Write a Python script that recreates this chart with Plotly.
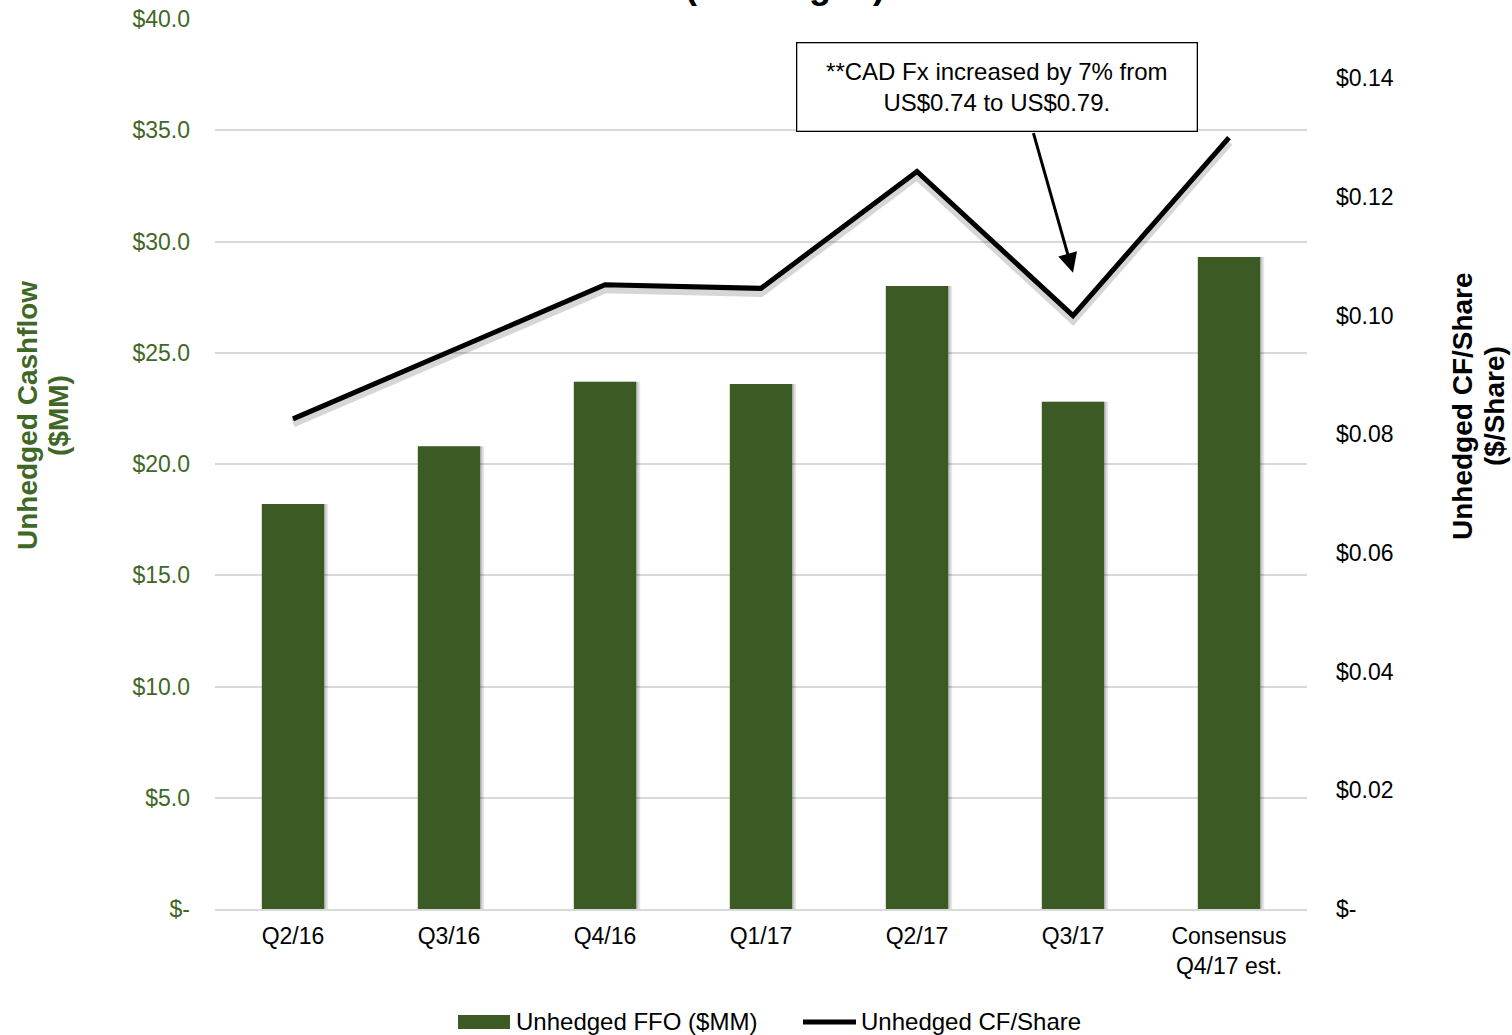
import plotly.graph_objects as go

# Quarterly unhedged cash flow and per-share figures
quarters = ["Q2/16", "Q3/16", "Q4/16", "Q1/17", "Q2/17", "Q3/17", "Consensus<br>Q4/17 est."]
ffo_mm = [18.2, 20.8, 23.7, 23.6, 28.0, 22.8, 29.3]
cf_per_share = [0.0826, 0.0939, 0.1052, 0.1046, 0.1243, 0.1000, 0.1300]

left_ticks = [0, 5, 10, 15, 20, 25, 30, 35, 40]
left_labels = ["$-", "$5.0", "$10.0", "$15.0", "$20.0", "$25.0", "$30.0", "$35.0", "$40.0"]
right_ticks = [0, 0.02, 0.04, 0.06, 0.08, 0.10, 0.12, 0.14]
right_labels = ["$-", "$0.02", "$0.04", "$0.06", "$0.08", "$0.10", "$0.12", "$0.14"]

FFO_NAME = "Unhedged FFO ($MM)"
CFPS_NAME = "Unhedged CF/Share"

FONT = "Liberation Sans, Arial, sans-serif"
GREEN = "#3b5a24"
GREEN_TEXT = "#3f6826"
GRID = "#d9d9d9"

W, H = 1512, 1035
ML, MR, MT, MB = 215, 205, 19, 126
PW, PH = W - ML - MR, H - MT - MB
slot_px = PW / len(quarters)
bar_w = 0.4


def px_x(p):
    return (p - ML) / PW


def px_y(p):
    return (MT + PH - p) / PH


fig = go.Figure()

# soft drop shadow behind the bars
fig.add_trace(go.Bar(
    x=quarters, y=ffo_mm, width=bar_w, offset=-bar_w / 2 + 4 / slot_px,
    marker=dict(color="rgba(0,0,0,0.10)", line=dict(width=0)),
    showlegend=False, hoverinfo="skip", yaxis="y"))
fig.add_trace(go.Bar(
    x=quarters, y=ffo_mm, width=bar_w, offset=-bar_w / 2 + 2 / slot_px,
    marker=dict(color="rgba(0,0,0,0.14)", line=dict(width=0)),
    showlegend=False, hoverinfo="skip", yaxis="y"))

fig.add_trace(go.Bar(
    x=quarters, y=ffo_mm, width=bar_w, offset=-bar_w / 2,
    marker=dict(color=GREEN, line=dict(width=0)),
    name=FFO_NAME, showlegend=False, yaxis="y"))

# shadow of the per-share line, drawn on a slightly shifted hidden axis
shift = 4 / PH * 0.15
fig.add_trace(go.Scatter(
    x=quarters, y=cf_per_share, mode="lines",
    line=dict(color="rgba(0,0,0,0.16)", width=9),
    showlegend=False, hoverinfo="skip", yaxis="y2"))

fig.add_trace(go.Scatter(
    x=quarters, y=cf_per_share, mode="lines",
    line=dict(color="#000000", width=5),
    name=CFPS_NAME, showlegend=False, yaxis="y3"))

# legend keys drawn below the plot with wide swatches
legend_y = px_y(1022)
shapes = [
    dict(type="rect", xref="paper", yref="paper",
         x0=px_x(458), x1=px_x(510), y0=px_y(1029), y1=px_y(1015),
         fillcolor=GREEN, line=dict(width=0)),
    dict(type="line", xref="paper", yref="paper",
         x0=px_x(803), x1=px_x(856), y0=legend_y, y1=legend_y,
         line=dict(color="#000000", width=5)),
]

annotations = [
    dict(text="<b>(Unhedged)</b>", xref="paper", yref="paper",
         x=px_x(785), y=px_y(8), xanchor="center", yanchor="bottom",
         showarrow=False, font=dict(size=36, color="#000000")),
    dict(text="**CAD Fx increased by 7% from<br>US$0.74 to US$0.79.",
         xref="paper", yref="paper", x=px_x(996.5), y=px_y(86.5),
         xanchor="center", yanchor="middle", showarrow=False,
         width=397, height=85, align="center",
         bgcolor="white", bordercolor="#000000", borderwidth=1.3,
         borderpad=1, font=dict(size=24, color="#000000")),
    dict(text="", xref="x", yref="y", x="Q3/17", y=28.6,
         showarrow=True, axref="pixel", ayref="pixel", ax=-40, ay=-141,
         arrowhead=2, arrowsize=1.3, arrowwidth=3, arrowcolor="#000000",
         standoff=0),
    # axis titles
    dict(text="<b>Unhedged Cashflow</b>", xref="paper", yref="paper",
         x=px_x(28), y=px_y(416), xanchor="center", yanchor="middle",
         textangle=-90, showarrow=False,
         font=dict(size=28, color=GREEN_TEXT)),
    dict(text="<b>($MM)</b>", xref="paper", yref="paper",
         x=px_x(59), y=px_y(416), xanchor="center", yanchor="middle",
         textangle=-90, showarrow=False,
         font=dict(size=28, color=GREEN_TEXT)),
    dict(text="<b>Unhedged CF/Share</b>", xref="paper", yref="paper",
         x=px_x(1462), y=px_y(406), xanchor="center", yanchor="middle",
         textangle=-90, showarrow=False,
         font=dict(size=28, color="#000000")),
    dict(text="<b>($/Share)</b>", xref="paper", yref="paper",
         x=px_x(1494), y=px_y(406), xanchor="center", yanchor="middle",
         textangle=-90, showarrow=False,
         font=dict(size=28, color="#000000")),
    # legend labels
    dict(text=FFO_NAME, xref="paper", yref="paper",
         x=px_x(514), y=legend_y, xanchor="left", yanchor="middle",
         showarrow=False, font=dict(size=24, color="#000000")),
    dict(text=CFPS_NAME, xref="paper", yref="paper",
         x=px_x(859), y=legend_y, xanchor="left", yanchor="middle",
         showarrow=False, font=dict(size=24, color="#000000")),
]

fig.update_layout(
    width=W, height=H,
    margin=dict(l=ML, r=MR, t=MT, b=MB, autoexpand=False),
    paper_bgcolor="white", plot_bgcolor="white",
    font=dict(family=FONT, size=23, color="#000000"),
    barmode="overlay",
    showlegend=False,
    xaxis=dict(type="category", range=[-0.5, len(quarters) - 0.5],
               showgrid=False, showline=True, linecolor=GRID, linewidth=1.5,
               ticks="", tickfont=dict(size=23), ticklabelstandoff=6,
               fixedrange=True),
    yaxis=dict(range=[0, 40], tickvals=left_ticks, ticktext=left_labels,
               showgrid=True, gridcolor=GRID, gridwidth=1.5, zeroline=False,
               ticks="", tickfont=dict(size=23, color=GREEN_TEXT),
               ticklabelstandoff=24),
    yaxis2=dict(range=[shift, 0.15 + shift], overlaying="y", visible=False),
    yaxis3=dict(range=[0, 0.15], overlaying="y", side="right",
                tickvals=right_ticks, ticktext=right_labels,
                showgrid=False, zeroline=False, ticks="",
                tickfont=dict(size=23, color="#000000"),
                ticklabelstandoff=28),
    shapes=shapes,
    annotations=annotations,
)

fig.write_html("out.html")
